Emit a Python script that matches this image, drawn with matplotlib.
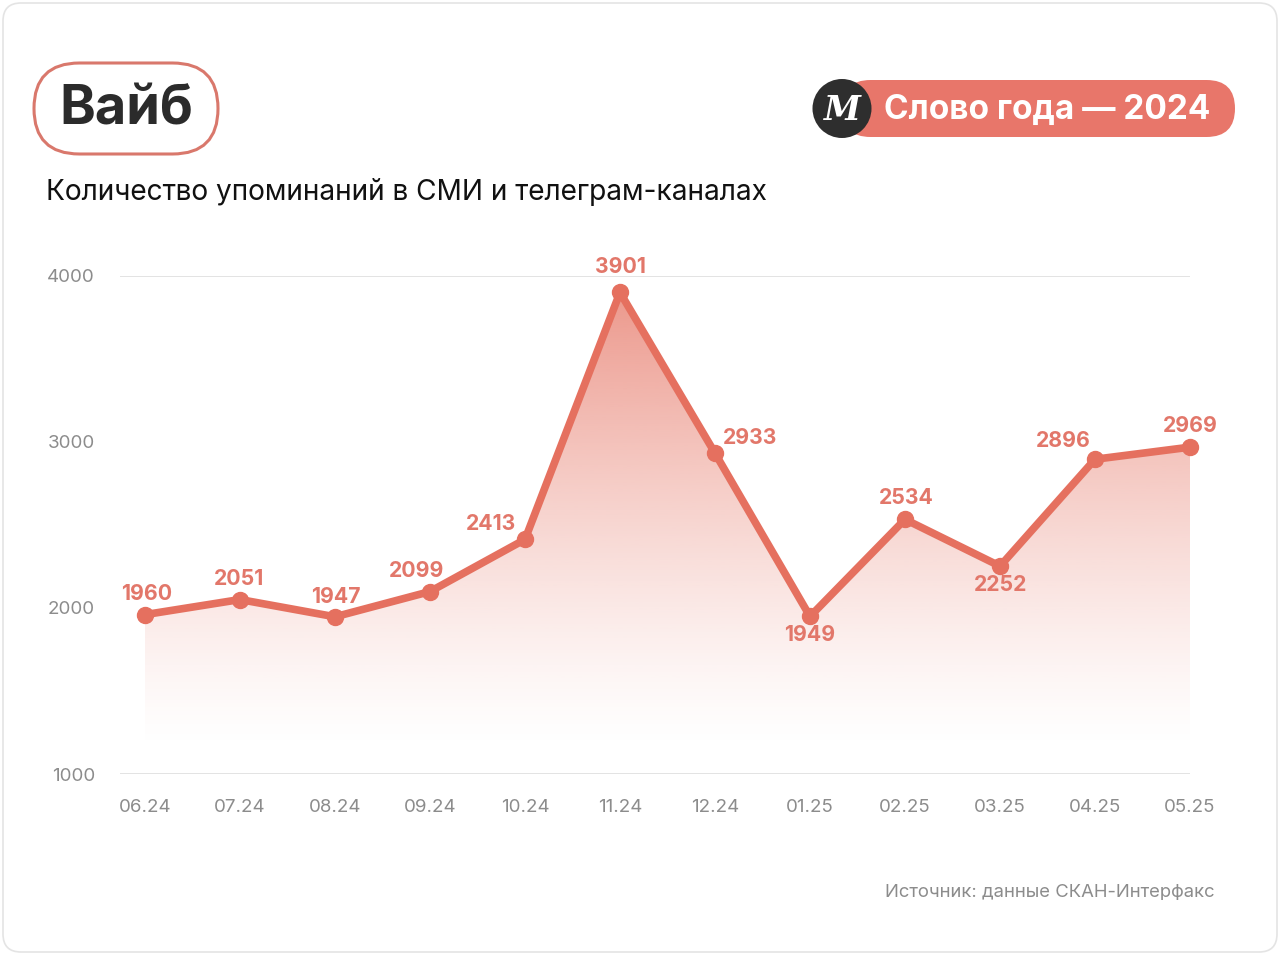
import numpy as np
import matplotlib
matplotlib.use("Agg")
import matplotlib.pyplot as plt
from matplotlib.patches import FancyBboxPatch, Circle, Polygon

plt.rcParams['font.family'] = ['Inter', 'DejaVu Sans']

months = ["06.24", "07.24", "08.24", "09.24", "10.24", "11.24",
          "12.24", "01.25", "02.25", "03.25", "04.25", "05.25"]
mentions = [1960, 2051, 1947, 2099, 2413, 3901, 2933, 1949, 2534, 2252, 2896, 2969]
yticks = [1000, 2000, 3000, 4000]

# label offsets in pixels (dx, dy) relative to each point
label_offsets = [(2, 21), (-1, 21), (1, 20), (-13, 21), (-34, 15), (0, 25),
                 (35, 15), (0, -19), (1, 21), (1, -19), (-32, 18), (0, 21)]

salmon = "#E5705F"
label_col = "#E2776A"
gray = "#8c8c8c"

W, H = 1280, 955
fig = plt.figure(figsize=(W / 100, H / 100), dpi=100)

# background overlay in pixel coordinates
bg = fig.add_axes([0, 0, 1, 1], zorder=0)
bg.set_xlim(0, W)
bg.set_ylim(H, 0)
bg.axis("off")

bg.add_patch(FancyBboxPatch((3, 3), W - 6, H - 6,
                            boxstyle="round,pad=0,rounding_size=18",
                            fc="white", ec="#e4e4e4", lw=1.2))

# "Вайб" pill
bg.add_patch(FancyBboxPatch((34, 63), 184, 91,
                            boxstyle="round,pad=0,rounding_size=45.5",
                            fc="white", ec="#D9786C", lw=2.2))
bg.text(126, 110, "Вайб", fontsize=39, fontweight="bold", color="#2b2b2b",
        ha="center", va="center")

# badge
bg.add_patch(FancyBboxPatch((842, 80), 393, 57,
                            boxstyle="round,pad=0,rounding_size=28.5",
                            fc="#E8766A", ec="none"))
bg.add_patch(Circle((842, 108.5), 29.5, fc="#2e2e2e", ec="none"))
bg.text(842, 110, "M", fontsize=24, fontstyle="italic", fontweight="bold",
        family="DejaVu Serif", color="white", ha="center", va="center")
bg.text(884, 110, "Слово года — 2024", fontsize=24, fontweight="bold",
        color="white", ha="left", va="center")

bg.text(46, 192, "Количество упоминаний в СМИ и телеграм-каналах",
        fontsize=20.2, color="#111111", ha="left", va="center")

bg.text(1215, 892, "Источник: данные СКАН-Интерфакс", fontsize=13.3,
        color=gray, ha="right", va="center")

# main chart
ax = fig.add_axes([120 / W, (H - 774) / H, (1190 - 120) / W, (774 - 276) / H],
                  zorder=2)
ax.patch.set_alpha(0)
x = np.arange(len(months))

for v in (1000, 4000):
    ax.axhline(v, color="#dedede", lw=1.2, zorder=1)

# gradient fill under the line
grad = np.zeros((256, 1, 4))
grad[..., :3] = matplotlib.colors.to_rgb(salmon)
ys = np.linspace(1000, 4000, 256)
grad[:, 0, 3] = np.clip((ys - 1150) / (3900 - 1150), 0, 1) ** 1.3 * 0.72
img = ax.imshow(grad, extent=[x[0], x[-1], 1000, 4000], origin="lower",
                aspect="auto", zorder=2, interpolation="bilinear")
verts = [(x[0], 1000)] + list(zip(x, mentions)) + [(x[-1], 1000)]
clip = Polygon(verts, closed=True, transform=ax.transData, fc="none", ec="none")
ax.add_patch(clip)
img.set_clip_path(clip)
ax.set_xlim(-0.263, 11.0)
ax.set_ylim(1000, 4000)

ax.plot(x, mentions, color=salmon, lw=5.5, solid_joinstyle="miter",
        marker="o", ms=11.5, zorder=4, clip_on=False)

for xi, v, (dx, dy) in zip(x, mentions, label_offsets):
    ax.annotate(str(v), (xi, v), xytext=(dx * 0.72, dy * 0.72),
                textcoords="offset points", ha="center", va="center",
                fontsize=15.3, fontweight="bold", color=label_col, zorder=5,
                annotation_clip=False)

ax.set_yticks(yticks)
ax.set_yticklabels([str(t) for t in yticks])
ax.set_xticks(x)
ax.set_xticklabels(months)
ax.tick_params(axis="both", length=0, colors=gray, labelsize=13.5)
ax.tick_params(axis="y", pad=18)
ax.tick_params(axis="x", pad=18)
for s in ax.spines.values():
    s.set_visible(False)

fig.savefig("out.png", dpi=100)
